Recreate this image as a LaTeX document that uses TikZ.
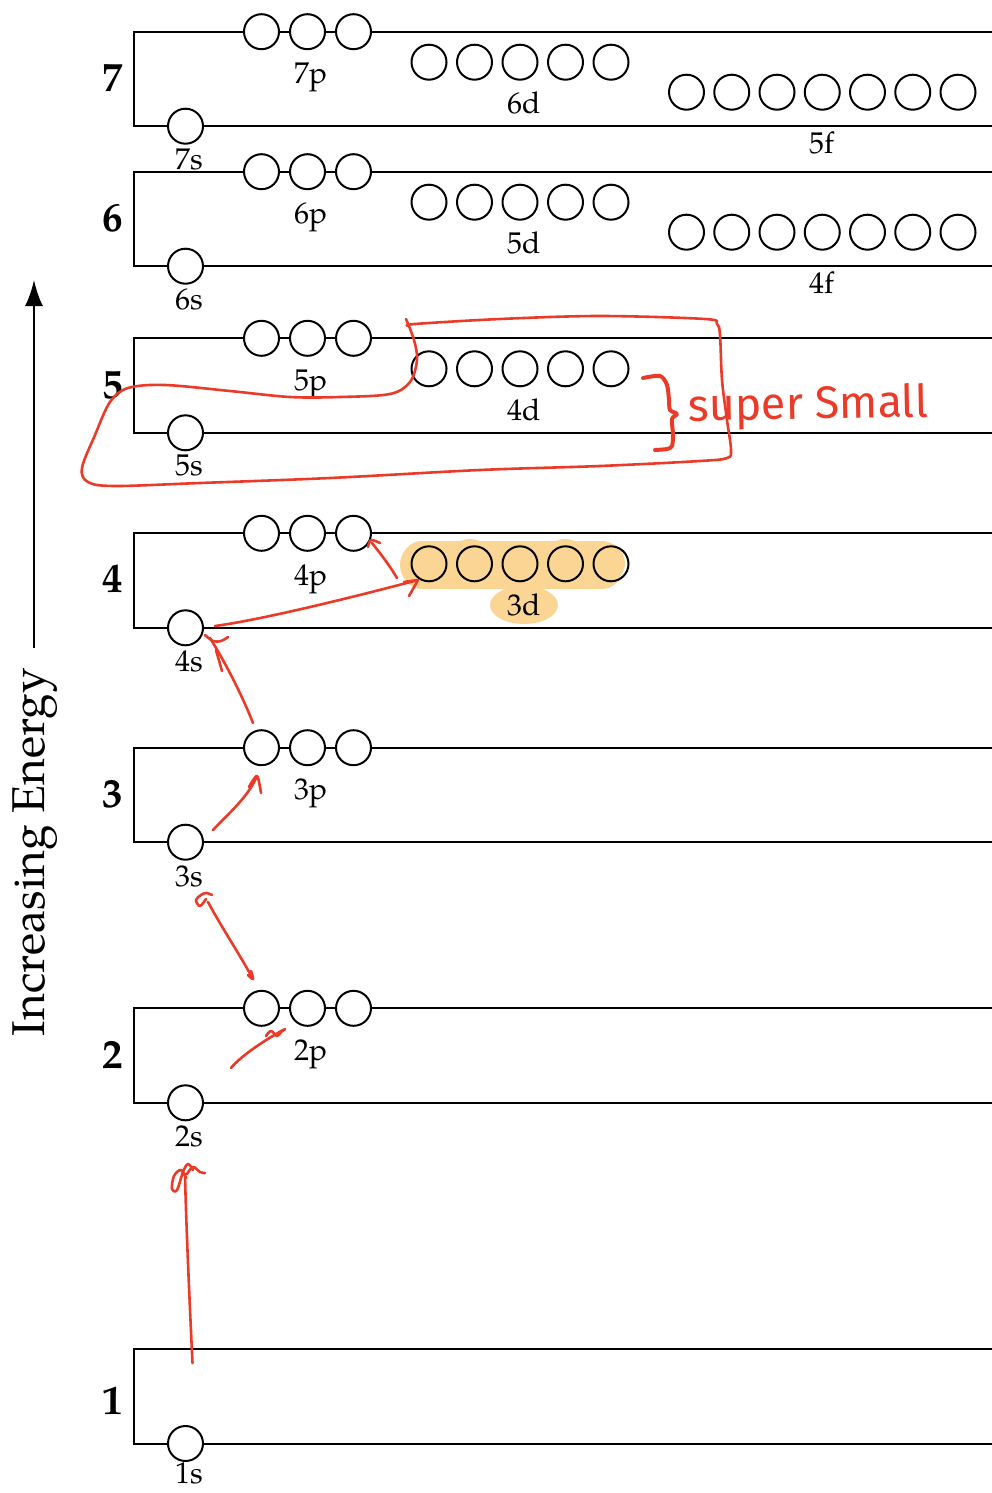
\documentclass[tikz,border=0pt]{standalone}
\usepackage{fontspec}
\setmainfont{TeX Gyre Pagella}
\newfontfamily\handfont{Fira Sans}
\usepackage{graphicx}
\usetikzlibrary{arrows.meta}

\definecolor{pen}{RGB}{235,58,40}
\definecolor{marker}{RGB}{250,213,148}

\tikzset{
  shell/.style={line width=2pt, line join=miter},
  orb/.style={circle, draw, line width=2pt, fill=white, minimum size=35pt, inner sep=0pt},
  orbopen/.style={orb, fill=none},
  lbl/.style={font=\fontsize{30}{34}\selectfont, inner sep=0pt, anchor=base},
  shellnum/.style={font=\fontsize{41}{46}\selectfont\bfseries, inner sep=0pt},
  ink/.style={draw=pen, line width=2.6pt, line cap=round, line join=round},
  thickink/.style={ink, line width=4pt},
}

% shell frame: #1 = principal number, #2 = y of the top edge, #3 = y offset of the number
\newcommand{\ShellBox}[3]{%
  \draw[shell] (993,#2) -- (134,#2) -- (134,#2+94.5) -- (993,#2+94.5);
  \node[shellnum] (shell#1) at (113,#2+#3) {#1};}
% one s orbital on the bottom edge; #4 = baseline offset of its label
\newcommand{\SOrb}[4]{%
  \node[orb] (#1) at (185.5,#3+94.5) {};
  \node[lbl] (#1-lbl) at (189,#3+94.5+#4) {#2};}
% three p orbitals on the top edge
\newcommand{\POrbs}[3]{%
  \foreach \k in {0,1,2} \node[orb] (#1-\k) at ({261.5+46*\k},#3) {};
  \node[lbl] (#1-lbl) at (311,#3+51.7) {#2};}
% five d orbitals
\newcommand{\DOrbs}[3]{%
  \foreach \k in {0,...,4} \node[orbopen] (#1-\k) at ({429+45.5*\k},#3+30.5) {};
  \node[lbl] (#1-lbl) at (524,#3+82) {#2};}
% seven f orbitals
\newcommand{\FOrbs}[3]{%
  \foreach \k in {0,...,6} \node[orbopen] (#1-\k) at ({686.5+45.25*\k},#3+60.5) {};
  \node[lbl] (#1-lbl) at (822,#3+94.5+27.3) {#2};}

\begin{document}
\begin{tikzpicture}[x=1pt, y=-1pt]
\useasboundingbox (0,0) rectangle (992,1493);
\clip (0,0) rectangle (992,1493);

% highlighter over the 3d subshell
\fill[marker, rounded corners=20pt] (402,541) rectangle (622,589);
\foreach \cx/\cy/\r in {424/565/24, 470/562/23, 520/566/23, 565/561/22, 604/563/21}
  \fill[marker] (\cx,\cy) circle[radius=\r];
\fill[marker] (524,605) ellipse[x radius=34, y radius=19];

% energy axis
\draw[line width=2.4pt, -{Latex[length=26pt,width=18pt]}] (34,648) coordinate (axbot) -- (34,280) coordinate (axtop);
\node[rotate=90, font=\fontsize{46}{50}\selectfont, inner sep=0pt] (axlbl) at (35,852) {Increasing Energy};

% shells
\ShellBox{7}{31.7}{46}
\ShellBox{6}{171.7}{47}
\ShellBox{5}{338.3}{47}
\ShellBox{4}{533.3}{45}
\ShellBox{3}{747.7}{47}
\ShellBox{2}{1008.3}{47}
\ShellBox{1}{1349}{52}

% orbitals
\SOrb{s7}{7s}{31.7}{43}   \POrbs{p7}{7p}{31.7}   \DOrbs{d6}{6d}{31.7}   \FOrbs{f5}{5f}{31.7}
\SOrb{s6}{6s}{171.7}{43}  \POrbs{p6}{6p}{171.7}  \DOrbs{d5}{5d}{171.7}  \FOrbs{f4}{4f}{171.7}
\SOrb{s5}{5s}{338.3}{43}  \POrbs{p5}{5p}{338.3}  \DOrbs{d4}{4d}{338.3}
\SOrb{s4}{4s}{533.3}{44}  \POrbs{p4}{4p}{533.3}  \DOrbs{d3}{3d}{533.3}
\SOrb{s3}{3s}{747.7}{44}  \POrbs{p3}{3p}{747.7}
\SOrb{s2}{2s}{1008.3}{44} \POrbs{p2}{2p}{1008.3}
\SOrb{s1}{1s}{1349}{40}

% filling-order arrows, drawn by hand
% 1s -> 2s
\coordinate (a1s) at (192.5,1363); \coordinate (a1e) at (185,1174);
\draw[ink] (a1s) .. controls (189,1290) and (186,1220) .. (a1e);
\draw[ink] plot[smooth, tension=0.6] coordinates {(186,1178) (181,1170) (174,1176) (172,1189) (177,1190) (183,1172) (188,1164) (193,1170)};
\draw[ink] plot[smooth, tension=0.6] coordinates {(187,1174) (193,1167) (200,1172) (205,1173)};
% 2s -> 2p
\coordinate (a2s) at (231,1068); \coordinate (a2e) at (283,1030);
\draw[ink] (a2s) .. controls (240,1057) and (260,1043) .. (a2e);
\draw[ink] plot[smooth, tension=0.6] coordinates {(266,1036) (271,1031) (277,1036) (281,1032) (285,1029)};
% 2p -> 3s
\coordinate (a3s) at (253,979); \coordinate (a3e) at (208,902);
\draw[ink] (a3s) .. controls (240,955) and (222,928) .. (a3e);
\draw[ink] plot[smooth, tension=0.6] coordinates {(248,975) (253,979) (251,971)};
\draw[ink] plot[smooth, tension=0.6] coordinates {(206,899) (200,906) (196,900) (201,895) (206,893) (212,895)};
% 3s -> 3p
\coordinate (a4s) at (213,830); \coordinate (a4e) at (257,776);
\draw[ink] (a4s) .. controls (230,812) and (248,797) .. (a4e);
\draw[ink] plot[smooth, tension=0.5] coordinates {(249,787) (257,776) (261,793)};
% 3p -> 4s
\coordinate (a5s) at (253,723); \coordinate (a5e) at (210,638);
\draw[ink] (a5s) .. controls (242,695) and (225,662) .. (a5e);
\draw[ink] plot[smooth, tension=0.6] coordinates {(205,635) (213,641) (221,641) (228,637)};
\draw[ink] (216,650) -- (222,671);
% 4s -> 3d
\coordinate (a6s) at (215,626); \coordinate (a6e) at (418,580);
\draw[ink] (a6s) .. controls (260,620) and (350,598) .. (a6e);
\draw[ink] (404,582) -- (a6e) -- (409,596);
% 3d -> 4p
\coordinate (a7s) at (397,578); \coordinate (a7e) at (372,543);
\draw[ink] (a7s) .. controls (390,566) and (380,553) .. (a7e);
\draw[ink] plot[smooth, tension=0.5] coordinates {(368,547) (371,540) (380,543)};

% loop round 5s, 5p and 4d
\draw[ink] plot[smooth, tension=0.55] coordinates {
  (406,319) (414,340) (417,360) (410,382) (390,394) (340,397) (290,397)
  (230,391) (165,385) (128,388) (110,402) (95,435) (82,468) (88,482)
  (115,486) (200,483) (330,478) (480,470) (600,466) (700,461) (727,458)
  (731,450) (727,420) (722,380) (720,335) (717,324) (705,319) (600,316)
  (500,319) (415,324) (409,326)};

% brace and note
\draw[thickink] plot[smooth, tension=0.5] coordinates {
  (643,378) (660,376) (667,385) (669,400) (670,410) (677,414) (672,419)
  (673,435) (672,446) (667,449) (655,450)};
\node[anchor=base west, inner sep=0pt, text=pen, rotate=1] (note) at (688,421)
  {\resizebox{240pt}{34pt}{\handfont super Small}};
\end{tikzpicture}
\end{document}
